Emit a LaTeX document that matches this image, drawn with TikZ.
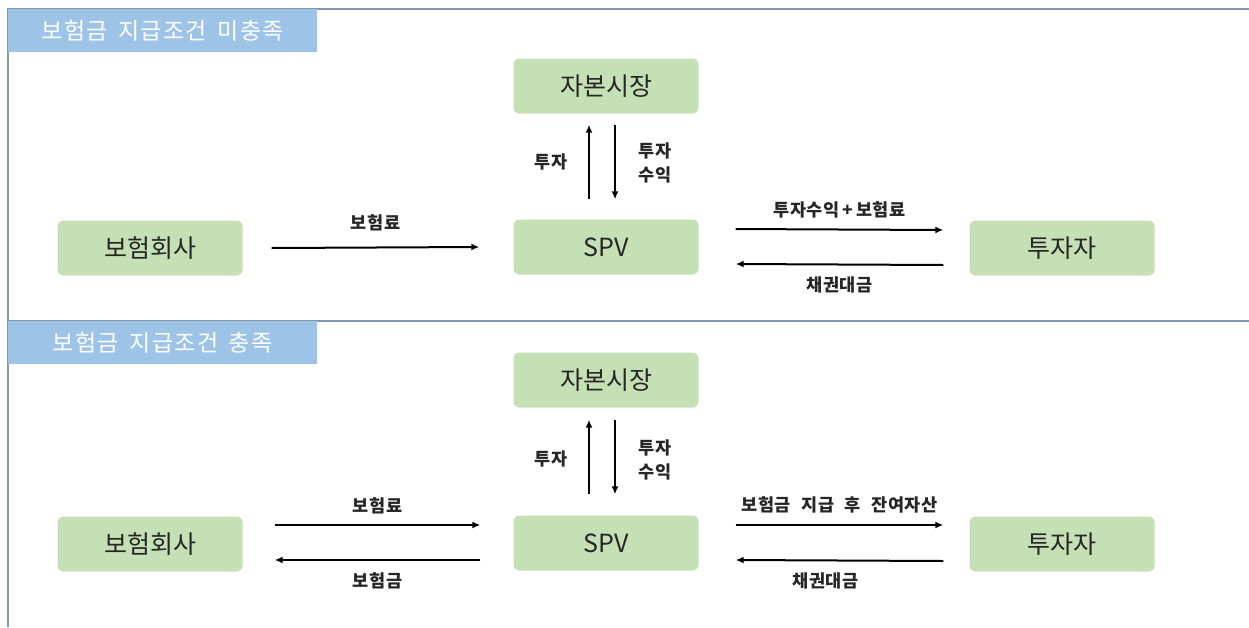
\documentclass[tikz,border=0pt]{standalone}
\usepackage{fontspec}
\setmainfont{Noto Sans CJK KR}
\newfontfamily\ttlfont[LetterSpace=6]{Noto Sans CJK KR}
\newfontfamily\lblfont[LetterSpace=3]{Noto Sans CJK KR}
\usetikzlibrary{arrows.meta}
\definecolor{boxgreen}{HTML}{C5E0B4}
\definecolor{titleblue}{HTML}{9DC3E6}
\definecolor{framecol}{HTML}{8497B0}
\tikzset{
  ent/.style={fill=boxgreen, rounded corners=6pt, minimum width=185pt, minimum height=55pt, font=\fontsize{25}{28}\selectfont, text=black!85},
  flow/.style={-{Latex[length=8pt,width=7pt]}, line width=2pt},
  lbl/.style={font=\lblfont\fontsize{17.5}{24}\selectfont\bfseries, text=black!85, align=center},
  ttl/.style={fill=titleblue, text=white, font=\ttlfont\fontsize{23}{24}\selectfont, minimum width=309pt, minimum height=43pt, inner sep=0pt},
}
\begin{document}
\begin{tikzpicture}[x=1pt,y=-1pt]
\useasboundingbox (0,0) rectangle (1249,627);
\fill[white] (0,0) rectangle (1249,627);
% frame
\draw[framecol, line width=1.2pt] (8,627) -- (8,9) -- (1249,9);
\draw[framecol, line width=1.2pt] (8,321) -- (1249,321);
% titles
\node[ttl, anchor=north west] (t1) at (8,9) {보험금\hspace{4pt} 지급조건\hspace{4pt} 미충족};
\node[ttl, anchor=north west] (t2) at (8,321) {보험금\hspace{4pt} 지급조건\hspace{4pt} 충족};
% top panel
\node[ent] (cm1) at (606,86) {자본시장};
\node[ent] (spv1) at (606,247) {SPV};
\node[ent] (ins1) at (150,248) {보험회사};
\node[ent] (inv1) at (1062,248) {투자자};
\draw[flow] ([xshift=-17pt,yshift=20pt]spv1.north) -- ([xshift=-17pt,yshift=-11pt]cm1.south);
\draw[flow] ([xshift=9pt,yshift=-11pt]cm1.south) -- ([xshift=9pt,yshift=20pt]spv1.north);
\node[lbl] (l11) at (551,162) {투자};
\node[lbl] (l12) at (655,163) {투자\\수익};
\draw[flow] ([xshift=29pt]ins1.east) -- node[lbl, above=12pt] (l13) {보험료} ([xshift=-34pt]spv1.west);
\draw[flow] ([xshift=37pt,yshift=18pt]spv1.east) -- node[lbl, above=7pt] (l14) {투자수익\,+\,보험료} ([xshift=-26pt,yshift=18pt]inv1.west);
\draw[flow] ([xshift=-26pt,yshift=-17pt]inv1.west) -- node[lbl, below=8pt] (l15) {채권대금} ([xshift=37pt,yshift=-17pt]spv1.east);
% bottom panel
\node[ent] (cm2) at (606,380) {자본시장};
\node[ent] (spv2) at (606,543) {SPV};
\node[ent] (ins2) at (150,544) {보험회사};
\node[ent] (inv2) at (1062,544) {투자자};
\draw[flow] ([xshift=-17pt,yshift=21pt]spv2.north) -- ([xshift=-17pt,yshift=-12pt]cm2.south);
\draw[flow] ([xshift=9pt,yshift=-12pt]cm2.south) -- ([xshift=9pt,yshift=21pt]spv2.north);
\node[lbl] (l21) at (551,459) {투자};
\node[lbl] (l22) at (655,460) {투자\\수익};
\draw[flow] ([xshift=32pt,yshift=19pt]ins2.east) -- node[lbl, above=7pt] (l23) {보험료} ([xshift=-33pt,yshift=18pt]spv2.west);
\draw[flow] ([xshift=-33pt,yshift=-17pt]spv2.west) -- node[lbl, below=8pt] (l24) {보험금} ([xshift=32pt,yshift=-16pt]ins2.east);
\draw[flow] ([xshift=37pt,yshift=18pt]spv2.east) -- node[lbl, above=7pt] (l25) {보험금\hspace{6pt} 지급\hspace{6pt} 후\hspace{6pt} 잔여자산} ([xshift=-26pt,yshift=19pt]inv2.west);
\draw[flow] ([xshift=-26pt,yshift=-17pt]inv2.west) -- node[lbl, below=8pt, xshift=-14pt] (l26) {채권대금} ([xshift=37pt,yshift=-17pt]spv2.east);
\end{tikzpicture}
\end{document}
